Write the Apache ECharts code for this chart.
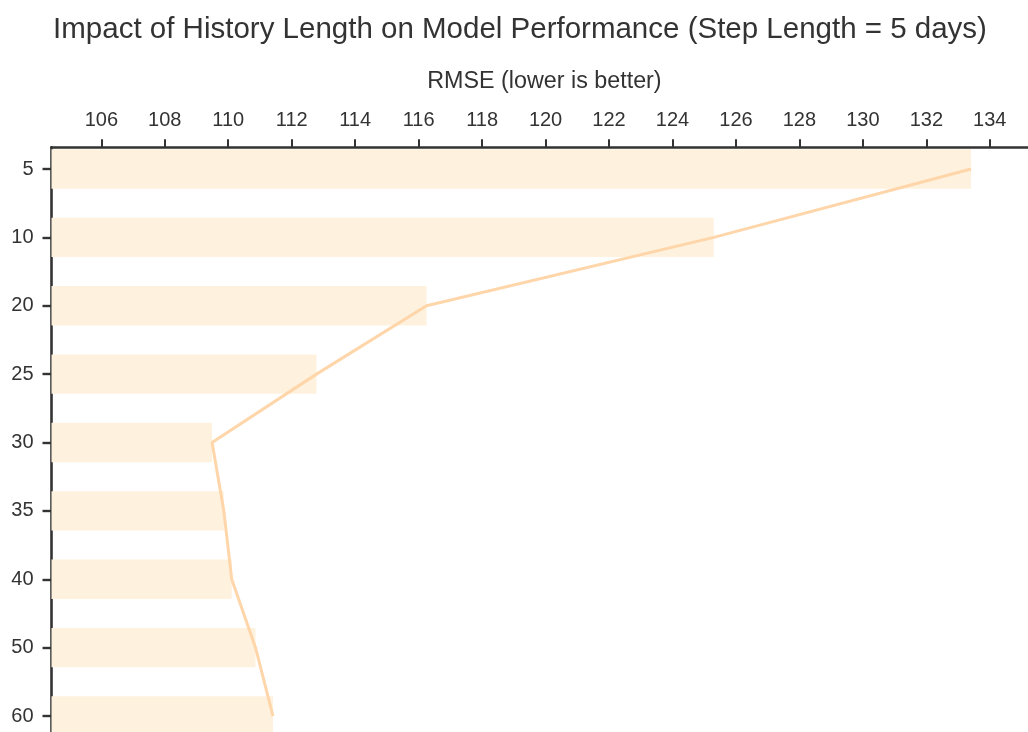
<!DOCTYPE html>
<html>
<head>
<meta charset="utf-8">
<title>History Length vs RMSE</title>
<script src="https://cdn.jsdelivr.net/npm/echarts@6/dist/echarts.min.js"></script>
<style>
  html, body { margin: 0; padding: 0; background: #ffffff; overflow: hidden; }
  #chart { width: 1040px; height: 752px; }
</style>
</head>
<body>
<div id="chart"></div>
<script>
// History length (days) for each run, listed top to bottom
const historyLengths = ['5', '10', '20', '25', '30', '35', '40', '50', '60'];
// RMSE obtained for each history length
const rmseValues = [133.41, 125.30, 116.25, 112.78, 109.49, 109.86, 110.11, 110.86, 111.41];
// Labelled ticks on the RMSE axis
const rmseTicks = [106, 108, 110, 112, 114, 116, 118, 120, 122, 124, 126, 128, 130, 132, 134];

const FONT = '"Liberation Sans", Arial, Helvetica, sans-serif';
const INK = '#333333';
const X_MIN = 104.43;
const X_MAX = 135.5;
// Row positions on the frame axis (row i sits at value i)
const rowIndex = historyLengths.map((_, i) => i);
const ROW_MIN = -0.3174;
const ROW_MAX = 8.5;

const chart = echarts.init(document.getElementById('chart'), null, { renderer: 'canvas' });

const option = {
  backgroundColor: '#ffffff',
  animation: false,
  textStyle: { fontFamily: FONT, color: INK },
  title: {
    text: 'Impact of History Length on Model Performance (Step Length = 5 days)',
    left: 'center',
    top: 10,
    padding: [5, 0, 5, 3],
    textStyle: { fontFamily: FONT, fontSize: 29.5, fontWeight: 'normal', color: INK }
  },
  grid: [
    // plotting grid: category bands for the bars and the line
    { left: 51.5, right: 2.6, top: 134.8, bottom: 1.8, containLabel: false },
    // frame grid: carries both visible axes
    { left: 51.5, right: 2.6, top: 147.3, bottom: 1.8, containLabel: false }
  ],
  xAxis: [
    {
      gridIndex: 0, type: 'value', min: X_MIN, max: X_MAX,
      show: false
    },
    {
      gridIndex: 1, type: 'value', min: X_MIN, max: X_MAX,
      position: 'top',
      name: 'RMSE (lower is better)',
      nameLocation: 'middle',
      nameGap: 54,
      nameTextStyle: { fontFamily: FONT, fontSize: 23.3, color: INK },
      axisLine: { show: true, onZero: false, lineStyle: { color: INK, width: 2.6 } },
      axisTick: { show: true, length: 8, lineStyle: { color: INK, width: 2 }, customValues: rmseTicks },
      axisLabel: { show: true, fontFamily: FONT, fontSize: 20, color: INK, margin: 17, customValues: rmseTicks },
      splitLine: { show: false }
    }
  ],
  yAxis: [
    {
      gridIndex: 0, type: 'category', data: historyLengths, inverse: true,
      show: false
    },
    {
      gridIndex: 1, type: 'value', inverse: true, min: ROW_MIN, max: ROW_MAX,
      position: 'left',
      axisLine: { show: true, onZero: false, lineStyle: { color: INK, width: 2.6 } },
      axisTick: { show: true, inside: false, length: 9, lineStyle: { color: INK, width: 2.4 }, customValues: rowIndex },
      axisLabel: {
        show: true, fontFamily: FONT, fontSize: 20, color: INK, margin: 18,
        customValues: rowIndex,
        formatter: (v) => historyLengths[Math.round(v)]
      },
      splitLine: { show: false }
    }
  ],
  series: [
    {
      type: 'bar',
      xAxisIndex: 0, yAxisIndex: 0,
      data: rmseValues,
      barWidth: 39.4,
      itemStyle: { color: '#fef2de' },
      z: 1
    },
    {
      type: 'line',
      xAxisIndex: 0, yAxisIndex: 0,
      data: rmseValues,
      showSymbol: false,
      symbol: 'none',
      lineStyle: { color: '#ffd5aa', width: 3 },
      z: 3
    }
  ]
};

chart.setOption(option);
</script>
</body>
</html>
